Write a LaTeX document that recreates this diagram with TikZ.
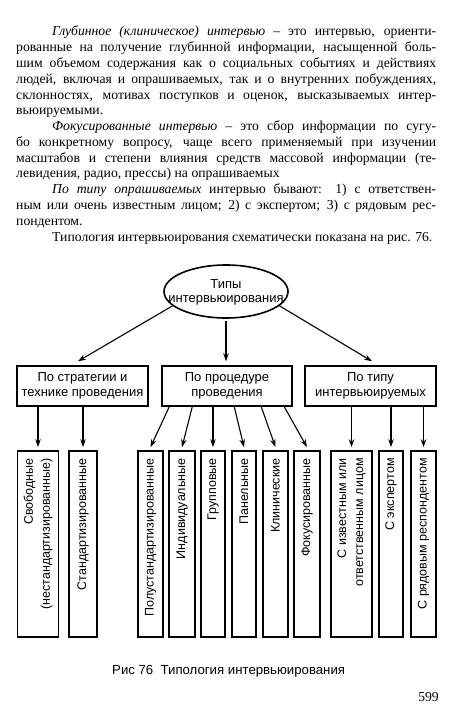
\documentclass[tikz,border=0pt]{standalone}
\usepackage{fontspec}
\setmainfont{Liberation Serif}
\setsansfont{Liberation Sans}
\usetikzlibrary{shapes.geometric,arrows.meta,calc}
\begin{document}
\begin{tikzpicture}[x=1pt,y=-1pt,
  txt/.style={anchor=base west, inner sep=0pt, font=\fontsize{13.7}{15.77}\selectfont},
  mbox/.style={draw, line width=1.5pt, minimum width=131pt, minimum height=40pt, inner sep=0pt, align=center, font=\sffamily\fontsize{13}{14.7}\selectfont},
  bbox/.style={draw, line width=1.7pt, minimum height=186pt, inner sep=0pt},
  vlab/.style={rotate=90, anchor=east, inner sep=0pt, align=right, font=\sffamily\fontsize{12.5}{17}\selectfont},
  arr/.style={line width=1.1pt, -{Stealth[length=8pt,width=5.5pt]}}
]
\fill[white] (0,0) rectangle (472,717);
\useasboundingbox (0,0) rectangle (472,717);

% ---- text above
\node[txt] (p1) at (52,36) {\makebox[384pt][s]{\textit{Глубинное (клиническое) интервью} – это интервью, ориенти-}};
\node[txt] (p2) at (16,51.77) {\makebox[420pt][s]{рованные на получение глубинной информации, насыщенной боль-}};
\node[txt] (p3) at (16,67.54) {\makebox[420pt][s]{шим объемом содержания как о социальных событиях и действиях}};
\node[txt] (p4) at (16,83.31) {\makebox[420pt][s]{людей, включая и опрашиваемых, так и о внутренних побуждениях,}};
\node[txt] (p5) at (16,99.08) {\makebox[420pt][s]{склонностях, мотивах поступков и оценок, высказываемых интер-}};
\node[txt] (p6) at (16,114.85) {вьюируемыми.};
\node[txt] (p7) at (52,130.62) {\makebox[384pt][s]{\textit{Фокусированные интервью} – это сбор информации по сугу-}};
\node[txt] (p8) at (16,146.39) {\makebox[420pt][s]{бо конкретному вопросу, чаще всего применяемый при изучении}};
\node[txt] (p9) at (16,162.16) {\makebox[420pt][s]{масштабов и степени влияния средств массовой информации (те-}};
\node[txt] (p10) at (16,177.93) {левидения, радио, прессы) на опрашиваемых};
\node[txt] (p11) at (52,193.7) {\makebox[384pt][s]{\textit{По типу опрашиваемых} интервью бывают: 1) с ответствен-}};
\node[txt] (p12) at (16,209.47) {\makebox[420pt][s]{ным или очень известным лицом; 2) с экспертом; 3) с рядовым рес-}};
\node[txt] (p13) at (16,225.24) {пондентом.};
\node[txt] (p14) at (52,241.01) {Типология интервьюирования схематически показана на рис. 76.};

% ---- diagram
\node[ellipse, draw, line width=1.6pt, minimum width=124pt, minimum height=53pt, inner sep=0pt] (ell) at (226,291.5) {};
\node[font=\sffamily\fontsize{13}{14}\selectfont, align=center, inner sep=0pt] (ellt) at (226,292) {Типы\\интервьюирования};

\node[mbox] (A) at (82.5,386) {По стратегии и\\технике проведения};
\node[mbox, minimum width=130pt] (B) at (227,386) {По процедуре\\проведения};
\node[mbox] (C) at (370.5,386) {По типу\\интервьюируемых};

\draw[arr] (ell.195) -- ([xshift=-4.5pt,yshift=4pt]A.north);
\draw[arr, shorten <=2pt, shorten >=4pt] (ell.south) -- (ell.south |- B.north);
\draw[arr] (ell.345) -- ([xshift=1.5pt,yshift=4pt]C.north);

\node[bbox, minimum width=41pt] (b1) at (38,544) {};
\node[bbox, minimum width=28pt] (b2) at (83,544) {};
\node[bbox, minimum width=25pt] (b3) at (150.5,544) {};
\node[bbox, minimum width=26pt] (b4) at (182,544) {};
\node[bbox, minimum width=24pt] (b5) at (213,544) {};
\node[bbox, minimum width=24pt] (b6) at (244,544) {};
\node[bbox, minimum width=25pt] (b7) at (275.5,544) {};
\node[bbox, minimum width=26pt] (b8) at (307,544) {};
\node[bbox, minimum width=41pt] (b9) at (351.5,544) {};
\node[bbox, minimum width=24pt] (b10) at (391,544) {};
\node[bbox, minimum width=25pt] (b11) at (423.5,544) {};

\node[vlab] (t1) at ([yshift=-8pt]b1.north) {Свободные\\(нестандартизированные)};
\node[vlab] (t2) at ([yshift=-8pt]b2.north) {Стандартизированные};
\node[vlab] (t3) at ([yshift=-8pt]b3.north) {Полустандартизированные};
\node[vlab] (t4) at ([yshift=-8pt]b4.north) {Индивидуальные};
\node[vlab] (t5) at ([yshift=-8pt]b5.north) {Групповые};
\node[vlab] (t6) at ([yshift=-8pt]b6.north) {Панельные};
\node[vlab] (t7) at ([yshift=-8pt]b7.north) {Клинические};
\node[vlab] (t8) at ([yshift=-8pt]b8.north) {Фокусированные};
\node[vlab] (t9) at ([yshift=-8pt]b9.north) {С известным или\\ответственным лицом};
\node[vlab] (t10) at ([yshift=-8pt]b10.north) {С экспертом};
\node[vlab] (t11) at ([yshift=-8pt]b11.north) {С рядовым респондентом};

\draw[arr] (b1.north |- A.south) -- ([yshift=3pt]b1.north);
\draw[arr] (b2.north |- A.south) -- ([yshift=3pt]b2.north);
\draw[arr] ([xshift=8pt]B.south west) -- ([yshift=3pt]b3.north);
\draw[arr] ([xshift=31pt]B.south west) -- ([yshift=3pt]b4.north);
\draw[arr] (b5.north |- B.south) -- ([yshift=3pt]b5.north);
\draw[arr] ([xshift=73pt]B.south west) -- ([yshift=3pt]b6.north);
\draw[arr] ([xshift=100pt]B.south west) -- ([yshift=3pt]b7.north);
\draw[arr] ([xshift=123pt]B.south west) -- ([yshift=3pt]b8.north);
\draw[arr] (b9.north |- C.south) -- ([yshift=3pt]b9.north);
\draw[arr] (b10.north |- C.south) -- ([yshift=3pt]b10.north);
\draw[arr] (b11.north |- C.south) -- ([yshift=3pt]b11.north);

\node[anchor=base west, inner sep=0pt, font=\sffamily\fontsize{13.2}{15}\selectfont] (cap) at (112,674) {Рис 76\ \ Типология интервьюирования};
\node[txt, anchor=base east] (pg) at (439,701) {599};
\end{tikzpicture}
\end{document}
